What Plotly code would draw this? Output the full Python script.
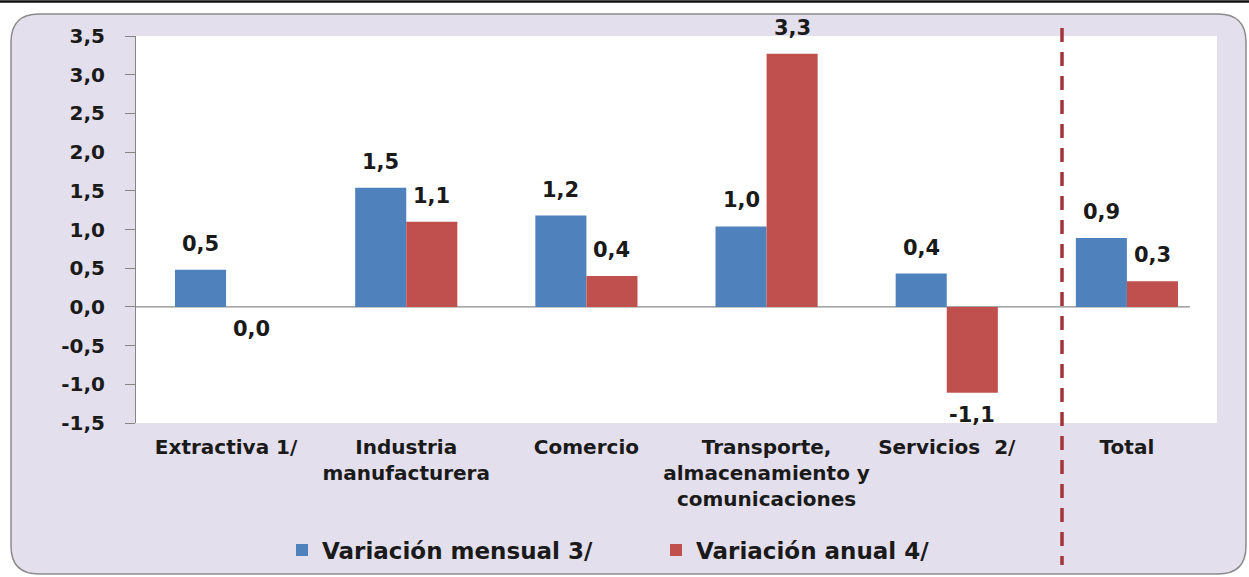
import plotly.graph_objects as go

categories = ["Extractiva 1/", "Industria<br>manufacturera", "Comercio",
              "Transporte,<br>almacenamiento y<br>comunicaciones", "Servicios  2/", "Total"]
mensual = [0.48, 1.54, 1.18, 1.04, 0.43, 0.89]
anual = [0.0, 1.10, 0.40, 3.27, -1.11, 0.33]
mensual_labels = ["0,5", "1,5", "1,2", "1,0", "0,4", "0,9"]
anual_labels = ["0,0", "1,1", "0,4", "3,3", "-1,1", "0,3"]
ytick_vals = [-1.5, -1.0, -0.5, 0.0, 0.5, 1.0, 1.5, 2.0, 2.5, 3.0, 3.5]
ytick_text = ["-1,5", "-1,0", "-0,5", "0,0", "0,5", "1,0", "1,5", "2,0", "2,5", "3,0", "3,5"]

W, H = 1249, 577
ML, MR, MT, MB = 136, 32, 36, 154
PW, PH = W - ML - MR, H - MT - MB
BARGAP = 0.433
BAR_W = PW / len(categories) * (1 - BARGAP) / 2


def fx(px):
    return (px - ML) / PW


def fy(py):
    return (H - MB - py) / PH


FONT = "DejaVu Sans"
TXT = "#1a1a1a"

fig = go.Figure()
fig.add_bar(x=categories, y=mensual, name="Variación mensual 3/", marker_color="#4F81BD",
            marker_line_width=0)
fig.add_bar(x=categories, y=anual, name="Variación anual 4/", marker_color="#C0504D",
            marker_line_width=0)

annotations = []
for vals, labels, sign in ((mensual, mensual_labels, -1), (anual, anual_labels, 1)):
    for cat, v, lab in zip(categories, vals, labels):
        above = v > 0
        annotations.append(dict(
            x=cat, y=v, xref="x", yref="y", text=lab, showarrow=False,
            xshift=sign * BAR_W / 2, yshift=12 if above else -8,
            yanchor="bottom" if above else "top",
            font=dict(family=FONT, size=21, weight="bold", color=TXT)))

# rounded frame
L, R, T, B, r = 11, 1246, 14, 574, 28
path = (f"M {fx(L+r)},{fy(T)} L {fx(R-r)},{fy(T)} Q {fx(R)},{fy(T)} {fx(R)},{fy(T+r)} "
        f"L {fx(R)},{fy(B-r)} Q {fx(R)},{fy(B)} {fx(R-r)},{fy(B)} "
        f"L {fx(L+r)},{fy(B)} Q {fx(L)},{fy(B)} {fx(L)},{fy(B-r)} "
        f"L {fx(L)},{fy(T+r)} Q {fx(L)},{fy(T)} {fx(L+r)},{fy(T)} Z")
shapes = [
    dict(type="path", path=path, xref="paper", yref="paper", fillcolor="#E4DFEC",
         line=dict(color="#8C8C8C", width=1.5), layer="below"),
    dict(type="rect", x0=0, x1=1, y0=0, y1=1, xref="paper", yref="paper",
         fillcolor="white", line=dict(width=0), layer="below"),
    dict(type="line", x0=0, x1=fx(1190), y0=0, y1=0, xref="paper", yref="y",
         line=dict(color="#8A8A8A", width=1.2), layer="below"),
    dict(type="line", x0=fx(0), x1=fx(W), y0=fy(1.5), y1=fy(1.5), xref="paper", yref="paper",
         line=dict(color="#111111", width=2.5)),
    dict(type="line", x0=fx(1062), x1=fx(1062), y0=fy(28), y1=fy(565), xref="paper", yref="paper",
         line=dict(color="#A3343A", width=3.5, dash="14px,10px")),
]

fig.update_layout(
    width=W, height=H,
    margin=dict(l=ML, r=MR, t=MT, b=MB, autoexpand=False),
    paper_bgcolor="white", plot_bgcolor="rgba(0,0,0,0)",
    barmode="group", bargap=BARGAP, bargroupgap=0,
    shapes=shapes, annotations=annotations,
    showlegend=True,
    legend=dict(orientation="h", x=fx(282), xanchor="left", y=fy(550), yanchor="middle",
                entrywidth=329, entrywidthmode="pixels",
                font=dict(family=FONT, size=23, weight="bold", color=TXT),
                bgcolor="rgba(0,0,0,0)"),
    font=dict(family=FONT, color=TXT),
)
fig.update_yaxes(range=[-1.5, 3.5], tickvals=ytick_vals, ticktext=ytick_text,
                 showgrid=False, zeroline=False,
                 showline=True, linecolor="#868686", linewidth=1,
                 ticks="outside", ticklen=10, tickcolor="#868686", ticklabelstandoff=16,
                 tickfont=dict(family=FONT, size=20, weight="bold", color=TXT))
fig.update_xaxes(showgrid=False, showline=False, ticks="", ticklabelstandoff=10,
                 tickfont=dict(family=FONT, size=20, weight="bold", color=TXT))

fig.write_html("out.html", config={"displayModeBar": False},
               post_script="document.body.style.margin='0';document.body.style.overflow='hidden';")
